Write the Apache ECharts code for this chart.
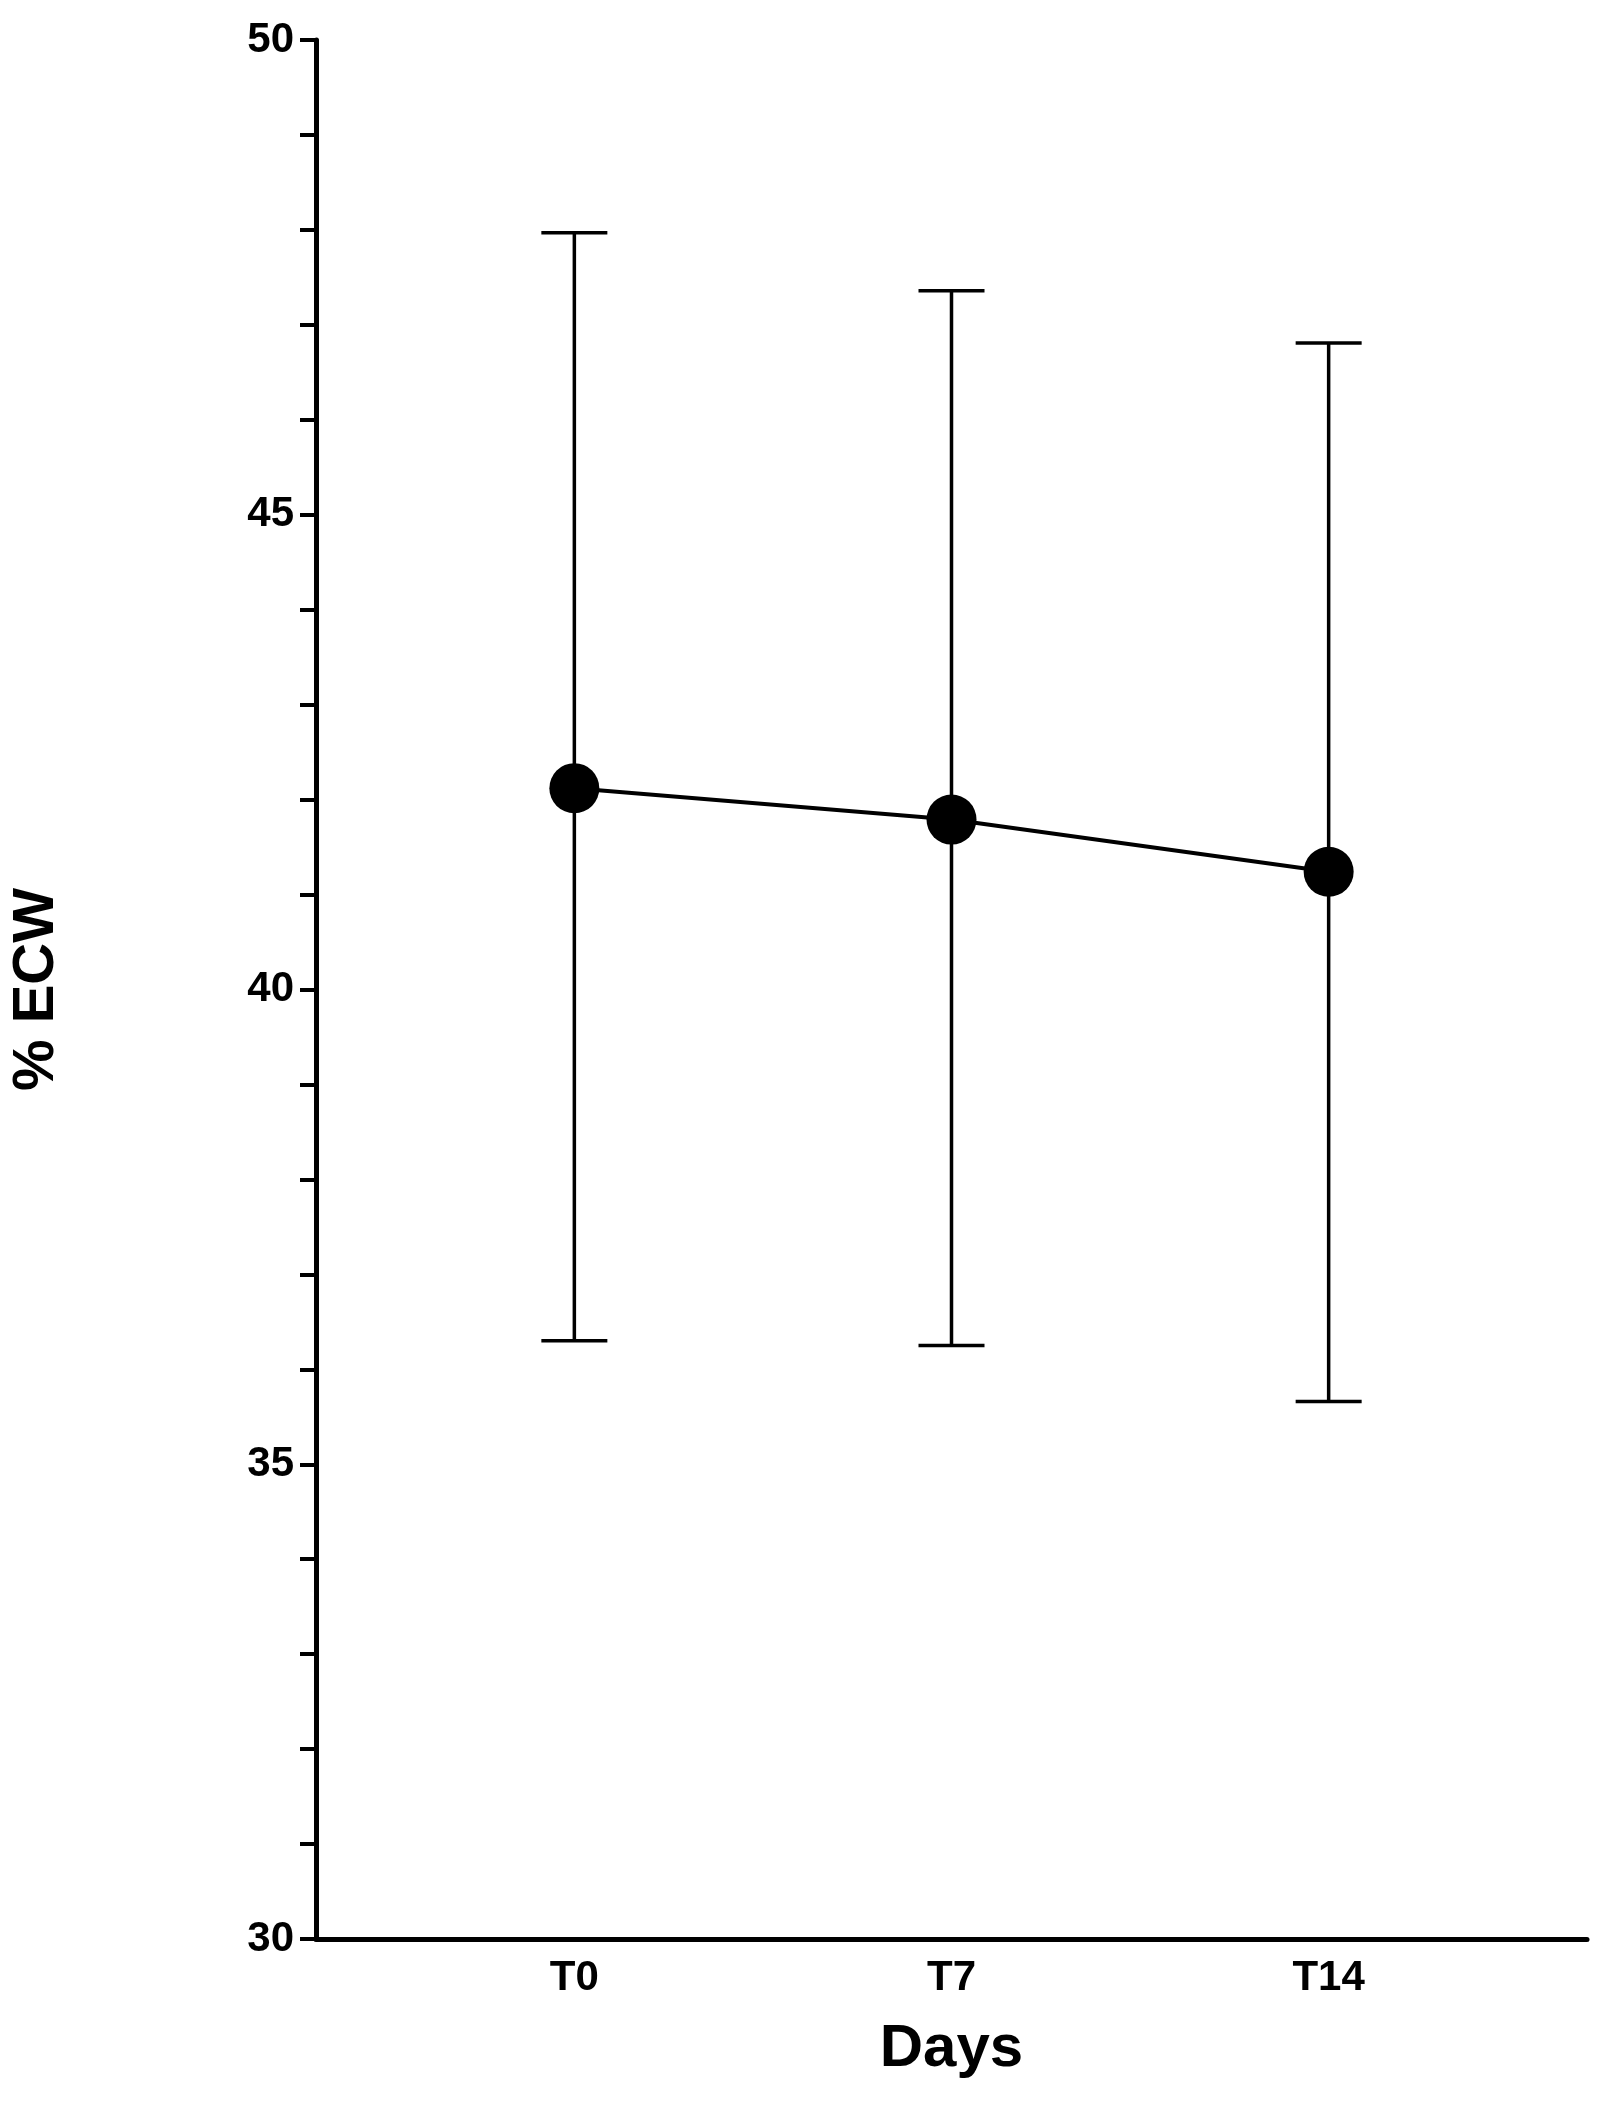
<!DOCTYPE html>
<html>
<head>
<meta charset="utf-8">
<script src="https://cdn.jsdelivr.net/npm/echarts@6/dist/echarts.min.js"></script>
<style>html,body{margin:0;background:#fff}#main{width:1607px;height:2105px}</style>
</head>
<body>
<div id="main"></div>
<script>
var categories = ['T0', 'T7', 'T14'];
var means = [42.12, 41.79, 41.24];
var upper = [47.97, 47.36, 46.81];
var lower = [36.30, 36.25, 35.66];

var chart = echarts.init(document.getElementById('main'));
var font = 'Liberation Sans, Arial, sans-serif';

var pts = means.map(function (v, i) { return [i, v]; });
var bars = categories.map(function (c, i) { return [i, lower[i], upper[i]]; });

var option = {
	backgroundColor: '#fff',
	animation: false,
	grid: { left: 315, top: 40, width: 1272, height: 1899 },
	xAxis: {
		type: 'value',
		min: -0.685,
		max: 2.685,
		name: 'Days',
		nameLocation: 'middle',
		nameGap: 80,
		nameTextStyle: { fontFamily: font, fontWeight: 'bold', fontSize: 60, color: '#000' },
		axisLine: { onZero: false, lineStyle: { color: '#000', width: 5 } },
		axisTick: { show: false },
		axisLabel: {
			customValues: [0, 1, 2],
			formatter: function (v) { return categories[Math.round(v)]; },
			fontFamily: font, fontWeight: 'bold', fontSize: 42, color: '#000', margin: 18
		},
		splitLine: { show: false }
	},
	yAxis: {
		type: 'value',
		min: 30,
		max: 50,
		interval: 1,
		name: '% ECW',
		nameLocation: 'middle',
		nameGap: 250,
		nameRotate: 90,
		nameTextStyle: { fontFamily: font, fontWeight: 'bold', fontSize: 58, color: '#000' },
		axisLine: { show: true, onZero: false, lineStyle: { color: '#000', width: 5 } },
		axisTick: { show: true, length: 16, lineStyle: { width: 4, color: '#000' } },
		axisLabel: {
			formatter: function (v) { return v % 5 === 0 ? String(v) : ''; },
			fontFamily: font, fontWeight: 'bold', fontSize: 42, color: '#000', margin: 22
		},
		splitLine: { show: false }
	},
	series: [
		{
			type: 'custom',
			data: bars,
			renderItem: function (params, api) {
				var top = api.coord([api.value(0), api.value(2)]);
				var bot = api.coord([api.value(0), api.value(1)]);
				var w = 33;
				var st = { stroke: '#000', lineWidth: 3.5 };
				return {
					type: 'group',
					children: [
						{ type: 'line', shape: { x1: top[0], y1: top[1], x2: bot[0], y2: bot[1] }, style: st },
						{ type: 'line', shape: { x1: top[0] - w, y1: top[1], x2: top[0] + w, y2: top[1] }, style: st },
						{ type: 'line', shape: { x1: bot[0] - w, y1: bot[1], x2: bot[0] + w, y2: bot[1] }, style: st }
					]
				};
			},
			z: 1
		},
		{
			type: 'line',
			data: pts,
			symbol: 'circle',
			symbolSize: 50,
			itemStyle: { color: '#000' },
			lineStyle: { color: '#000', width: 4 },
			z: 2
		}
	]
};
chart.setOption(option);
</script>
</body>
</html>
